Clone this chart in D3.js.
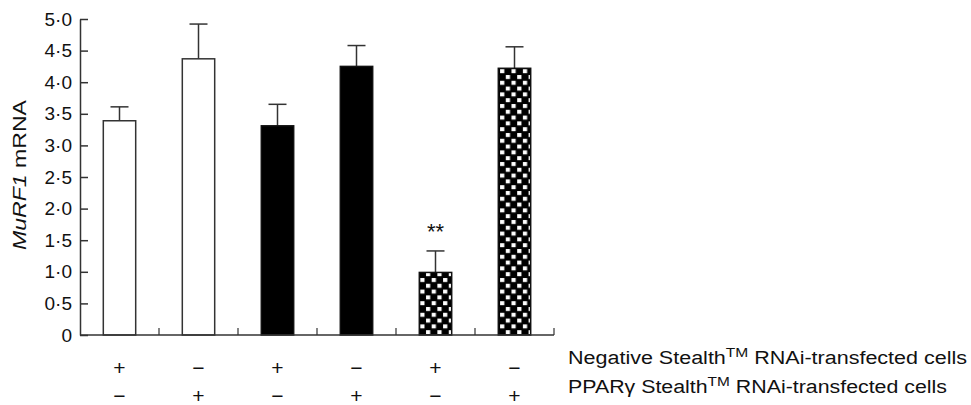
<!DOCTYPE html>
<html><head><meta charset="utf-8">
<script src="https://cdn.jsdelivr.net/npm/d3@7"></script>
<style>body{margin:0;background:#fff}svg{display:block}text{font-family:"Liberation Sans",Arial,sans-serif;fill:#111}</style>
</head><body><svg id="c" width="971" height="405"></svg>
<script>
const groups = ["g1","g2","g3","g4","g5","g6"];
const means = [3.39, 4.37, 3.31, 4.25, 0.99, 4.22];
const errors = [0.22, 0.55, 0.34, 0.33, 0.34, 0.34];
const fills = ["white","white","black","black","checker","checker"];
const negRow = ["+","−","+","−","+","−"];
const pparRow = ["−","+","−","+","−","+"];
const yTicks = [0,0.5,1,1.5,2,2.5,3,3.5,4,4.5,5];
const signif = ["","","","","**",""];

const svg = d3.select("#c");
const x = d3.scaleBand().domain(groups).range([80,554]).padding(0);
const y = d3.scaleLinear().domain([0,5]).range([335,19]);
const bw = x.bandwidth()*0.41;

const defs = svg.append("defs");
const pw = 11.4, ph = 11.6;
const pat = defs.append("pattern").attr("id","chk").attr("patternUnits","userSpaceOnUse")
  .attr("width",pw).attr("height",ph).attr("x",x("g5")+x.bandwidth()/2-bw/2).attr("y",y(0));
pat.append("rect").attr("width",pw).attr("height",ph).attr("fill","#000");
pat.append("rect").attr("x",1.0).attr("y",1.0).attr("width",4.2).attr("height",4.0).attr("fill","#fff");
pat.append("rect").attr("x",6.7).attr("y",6.8).attr("width",4.2).attr("height",4.0).attr("fill","#fff");

const g = svg.append("g");
// error bars
groups.forEach((k,i)=>{
  const cx = x(k)+x.bandwidth()/2;
  g.append("line").attr("x1",cx).attr("x2",cx).attr("y1",y(means[i])).attr("y2",y(means[i]+errors[i]))
    .attr("stroke","#333").attr("stroke-width",1.5);
  g.append("line").attr("x1",cx-9).attr("x2",cx+9).attr("y1",y(means[i]+errors[i])).attr("y2",y(means[i]+errors[i]))
    .attr("stroke","#333").attr("stroke-width",1.5);
});
// bars
g.selectAll("rect.bar").data(groups).join("rect").attr("class","bar")
  .attr("x",d=>x(d)+x.bandwidth()/2-bw/2).attr("width",bw)
  .attr("y",(d,i)=>y(means[i])).attr("height",(d,i)=>y(0)-y(means[i]))
  .attr("fill",(d,i)=>fills[i]==="checker"?"url(#chk)":fills[i])
  .attr("stroke",(d,i)=>fills[i]==="white"?"#333":"#111").attr("stroke-width",1.5);

// significance
groups.forEach((k,i)=>{
  if(!signif[i]) return;
  g.append("text").attr("x",x(k)+x.bandwidth()/2).attr("y",y(means[i]+errors[i])-12)
    .attr("text-anchor","middle").attr("font-size",22).text(signif[i]);
});

// y axis
const yAxis = d3.axisLeft(y).tickValues(yTicks).tickSizeInner(-8).tickSizeOuter(0).tickPadding(8)
  .tickFormat(d=>d===0?"0":d.toFixed(1).replace(".","·"));
const ya = svg.append("g").attr("transform","translate(80,0)").call(yAxis);
ya.selectAll("path,line").attr("stroke","#333").attr("stroke-width",1.5);
ya.selectAll("text").attr("font-size",19).attr("fill","#111").style("font-family","Liberation Sans, Arial, sans-serif");

// x axis baseline + separators
svg.append("line").attr("x1",80).attr("x2",554).attr("y1",y(0)).attr("y2",y(0)).attr("stroke","#333").attr("stroke-width",1.5);
groups.forEach(k=>{
  const bx = x(k)+x.bandwidth();
  svg.append("line").attr("x1",bx).attr("x2",bx).attr("y1",y(0)).attr("y2",y(0)-7).attr("stroke","#333").attr("stroke-width",1.2);
});

// rows of +/- signs
groups.forEach((k,i)=>{
  const cx = x(k)+x.bandwidth()/2;
  svg.append("text").attr("x",cx).attr("y",375).attr("text-anchor","middle").attr("font-size",21).text(negRow[i]);
  svg.append("text").attr("x",cx).attr("y",403).attr("text-anchor","middle").attr("font-size",21).text(pparRow[i]);
});

// row labels
function rowLabel(yy, pre, len){
  const t = svg.append("text").attr("x",568).attr("y",yy).attr("font-size",18)
    .attr("textLength",len).attr("lengthAdjust","spacingAndGlyphs");
  t.append("tspan").text(pre);
  t.append("tspan").attr("dy",-7).attr("font-size",13).text("TM");
  t.append("tspan").attr("dy",7).text(" RNAi-transfected cells");
  return t;
}
rowLabel(364, "Negative Stealth", 399);
rowLabel(393, "PPARγ Stealth", 379);

// y title
const yt = svg.append("text").attr("transform","translate(26,175) rotate(-90)").attr("text-anchor","middle").attr("font-size",19)
  .attr("textLength",150).attr("lengthAdjust","spacingAndGlyphs");
yt.append("tspan").attr("font-style","italic").text("MuRF1");
yt.append("tspan").text(" mRNA");
</script></body></html>
